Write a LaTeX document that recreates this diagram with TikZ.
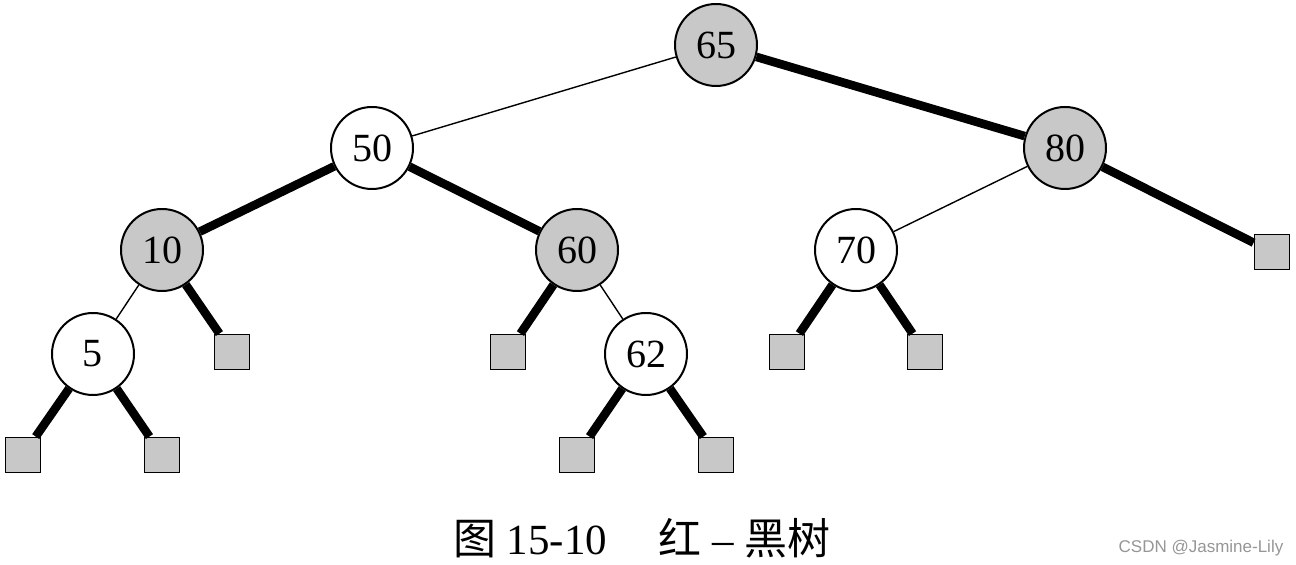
\documentclass[tikz,border=0pt]{standalone}
\usepackage{fontspec}
\setmainfont{Liberation Serif}
\newfontfamily\cjk{Noto Sans CJK SC}
\newfontfamily\wmfont{Liberation Sans}
\definecolor{nodegray}{RGB}{200,200,200}
\definecolor{wmgray}{RGB}{150,150,150}
\begin{document}
\begin{tikzpicture}[x=0.5pt,y=-0.5pt,
  blk/.style={circle,draw=black,line width=1pt,fill=nodegray,minimum size=41pt,inner sep=0pt,font=\fontsize{20}{20}\selectfont},
  wht/.style={circle,draw=black,line width=1pt,fill=white,minimum size=41pt,inner sep=0pt,font=\fontsize{20}{20}\selectfont},
  leaf/.style={rectangle,draw=black,line width=0.9pt,fill=nodegray,minimum size=17.5pt,inner sep=0pt},
  redge/.style={line width=0.7pt},
  bedge/.style={line width=4.3pt}]
\useasboundingbox (0,0) rectangle (1296,565);
\node[blk] (n65) at (716,45) {65};
\node[wht] (n50) at (372,148) {50};
\node[blk] (n80) at (1065,148) {80};
\node[blk] (n10) at (162,250) {10};
\node[blk] (n60) at (577,250) {60};
\node[wht] (n70) at (856,250) {70};
\node[wht] (n5) at (93,354) {5};
\node[wht] (n62) at (646,354) {62};
\node[leaf] (l80) at (1272,252) {};
\node[leaf] (l10) at (232,352) {};
\node[leaf] (l60) at (508,352) {};
\node[leaf] (l70a) at (787,352) {};
\node[leaf] (l70b) at (925,352) {};
\node[leaf] (l5a) at (23,455) {};
\node[leaf] (l5b) at (162,455) {};
\node[leaf] (l62a) at (577,455) {};
\node[leaf] (l62b) at (716,455) {};
\draw[redge] (n65) -- (n50);
\draw[bedge] (n65) -- (n80);
\draw[bedge] (n50) -- (n10);
\draw[bedge] (n50) -- (n60);
\draw[redge] (n80) -- (n70);
\draw[bedge] (n80) -- (l80);
\draw[redge] (n10) -- (n5);
\draw[bedge] (n10) -- (l10);
\draw[bedge] (n60) -- (l60);
\draw[redge] (n60) -- (n62);
\draw[bedge] (n70) -- (l70a);
\draw[bedge] (n70) -- (l70b);
\draw[bedge] (n5) -- (l5a);
\draw[bedge] (n5) -- (l5b);
\draw[bedge] (n62) -- (l62a);
\draw[bedge] (n62) -- (l62b);
\node[font=\fontsize{21.5}{21.5}\selectfont] (cap) at (642,538) {{\cjk 图}\ 15-10\hspace{1.2em}{\cjk 红}\ --\ {\cjk 黑树}};
\node[font=\wmfont\fontsize{8.5}{8.5}\selectfont,text=wmgray] (wm) at (1201,548) {CSDN @Jasmine-Lily};
\end{tikzpicture}
\end{document}
